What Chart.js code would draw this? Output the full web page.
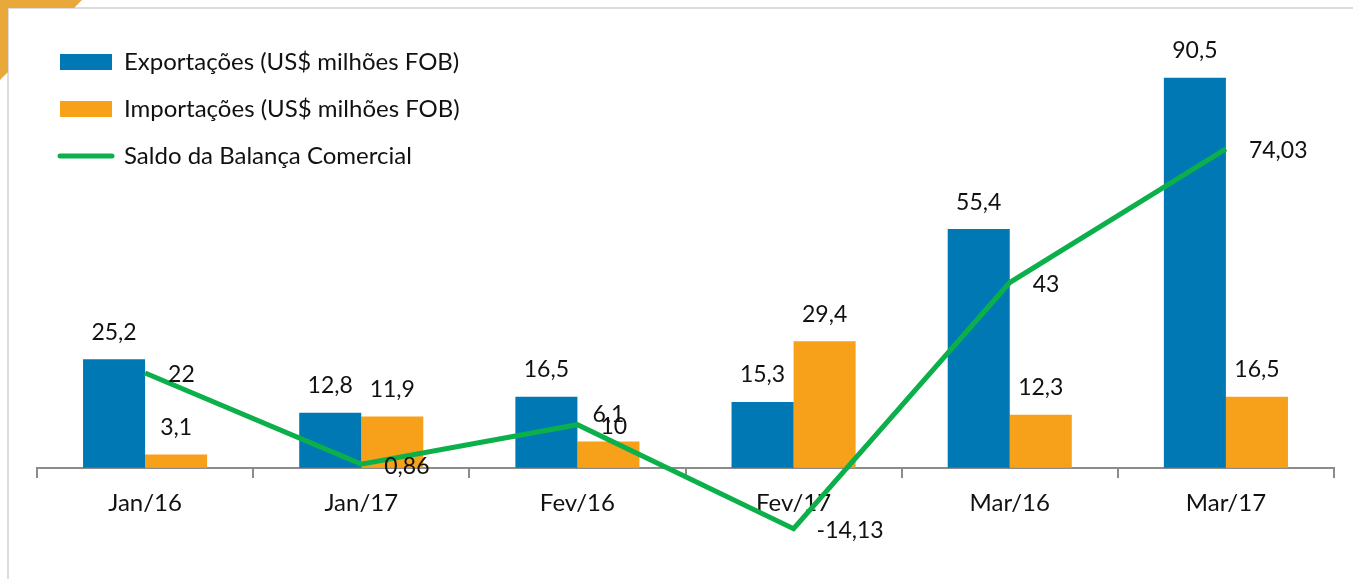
<!DOCTYPE html>
<html>
<head>
<meta charset="utf-8">
<script src="https://cdn.jsdelivr.net/npm/chart.js@4.4.1/dist/chart.umd.min.js"></script>
<style>
  html, body { margin: 0; padding: 0; background: #fff; }
  #wrap { position: relative; width: 1353px; height: 579px; overflow: hidden; }
  #corner { position: absolute; left: 0; top: 0; width: 90px; height: 90px; background: #E9A83A;
    clip-path: polygon(0 0, 82px 0, 74px 8px, 8px 8px, 8px 72px, 0 80px); }
  #frame { position: absolute; left: 7px; top: 7px; right: -5px; bottom: -5px;
    border-top: 2px solid #dcdcdc; border-left: 2px solid #dcdcdc; }
  canvas { position: absolute; left: 0; top: 0; }
</style>
</head>
<body>
<div id="wrap">
  <div id="frame"></div>
  <div id="corner"></div>
  <canvas id="chart" width="1353" height="579"></canvas>
</div>
<script>
const categories = ['Jan/16', 'Jan/17', 'Fev/16', 'Fev/17', 'Mar/16', 'Mar/17'];
const exportacoes = [25.2, 12.8, 16.5, 15.3, 55.4, 90.5];
const importacoes = [3.1, 11.9, 6.1, 29.4, 12.3, 16.5];
const saldo = [22, 0.86, 10, -14.13, 43, 74.03];

const FONT = 'Lato, "Noto Sans", sans-serif';
const TEXT = '#111';

function fmt(v) {
  return String(v).replace('.', ',');
}

// value labels above bars / right of line points
const valueLabels = {
  id: 'valueLabels',
  afterDatasetsDraw(chart) {
    const ctx = chart.ctx;
    ctx.save();
    ctx.font = '23px ' + FONT;
    ctx.fillStyle = TEXT;
    chart.data.datasets.forEach((ds, i) => {
      const meta = chart.getDatasetMeta(i);
      meta.data.forEach((el, j) => {
        const v = ds.data[j];
        ctx.textBaseline = 'middle';
        if (ds.type === 'line') {
          ctx.textAlign = 'left';
          ctx.fillText(fmt(v), el.x + 23, el.y + 2);
        } else {
          ctx.textAlign = 'center';
          ctx.fillText(fmt(v), el.x, el.y - 27);
        }
      });
    });
    ctx.restore();
  }
};

new Chart(document.getElementById('chart'), {
  type: 'bar',
  data: {
    labels: categories,
    datasets: [
      {
        label: 'Exportações (US$ milhões FOB)',
        data: exportacoes,
        backgroundColor: '#0078B4',
        order: 2
      },
      {
        label: 'Importações (US$ milhões FOB)',
        data: importacoes,
        backgroundColor: '#F7A019',
        order: 2
      },
      {
        type: 'line',
        label: 'Saldo da Balança Comercial',
        data: saldo,
        borderColor: '#0CB04A',
        backgroundColor: '#0CB04A',
        borderWidth: 5,
        pointRadius: 0,
        tension: 0,
        order: 1
      }
    ]
  },
  options: {
    responsive: false,
    animation: false,
    layout: { padding: { left: 37, right: 19, top: 52, bottom: 25 } },
    datasets: {
      bar: { categoryPercentage: 0.574, barPercentage: 1 }
    },
    scales: {
      x: {
        position: { y: 0 },
        offset: true,
        grid: {
          display: true,
          offset: true,
          drawOnChartArea: false,
          drawTicks: true,
          tickLength: 9,
          color: '#8c8c8c',
          lineWidth: 2
        },
        border: { display: true, color: '#8c8c8c', width: 2 },
        ticks: { color: TEXT, font: { family: FONT, size: 24 }, padding: 12 }
      },
      y: {
        display: false,
        min: -20,
        max: 96.5
      }
    },
    plugins: {
      legend: {
        position: 'chartArea',
        align: 'start',
        // empty title only pushes the legend rows down
        title: { display: true, text: ' ', color: TEXT, font: { size: 20, lineHeight: 1.2 }, padding: { top: 0, bottom: 3 } },
        labels: {
          usePointStyle: true,
          pointStyleWidth: 52,
          boxHeight: 16,
          padding: 23,
          color: TEXT,
          font: { family: FONT, size: 24 },
          generateLabels(chart) {
            return chart.data.datasets.map((ds, i) => ({
              text: ds.label,
              fontColor: TEXT,
              fillStyle: ds.backgroundColor,
              strokeStyle: ds.type === 'line' ? ds.borderColor : ds.backgroundColor,
              lineWidth: ds.type === 'line' ? 5 : 0,
              pointStyle: ds.type === 'line' ? 'line' : 'rect',
              lineCap: 'round',
              datasetIndex: i,
              hidden: false
            }));
          }
        }
      },
      tooltip: { enabled: false }
    }
  },
  plugins: [valueLabels]
});
</script>
</body>
</html>
